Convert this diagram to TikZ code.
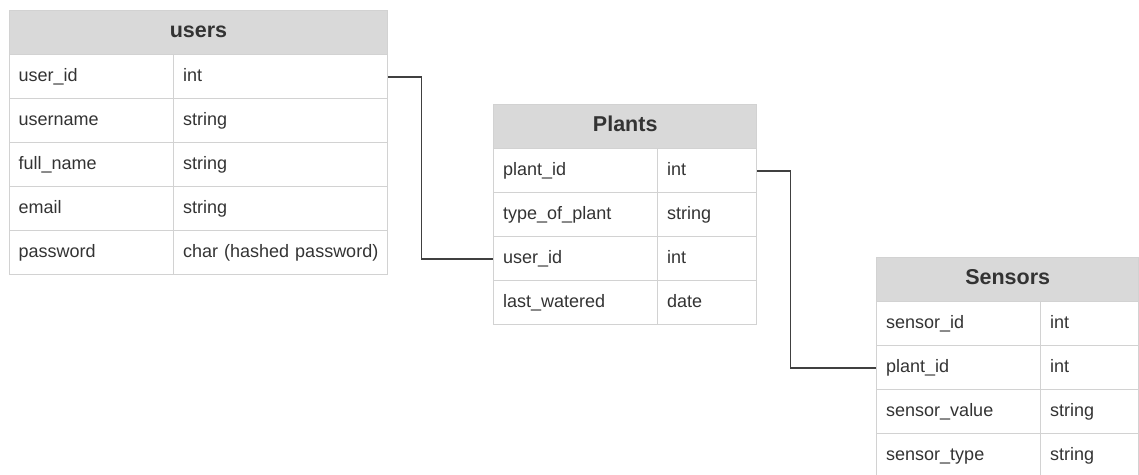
\documentclass[tikz,border=0pt]{standalone}
\usepackage{fontspec}
\setmainfont{Liberation Sans}
\definecolor{hdrgray}{HTML}{D9D9D9}
\definecolor{gridgray}{HTML}{D2D2D2}
\definecolor{txtgray}{HTML}{333333}
\definecolor{linkgray}{HTML}{404040}
\tikzset{
	cell/.style={draw=gridgray, line width=1.4pt, anchor=north west,
		minimum height=44pt, inner xsep=9.5pt, inner ysep=0pt,
		text width=#1, align=left, text height=13pt, text depth=4pt,
		text=txtgray, font=\fontsize{18}{20}\selectfont},
	hdr/.style={draw=gridgray, fill=hdrgray, line width=1.4pt, anchor=north west,
		minimum height=44pt, minimum width=#1, inner sep=0pt,
		text height=15pt, text depth=5pt,
		text=txtgray, font=\fontsize{21.5}{24}\bfseries},
	link/.style={draw=linkgray, line width=1.6pt}
}
\begin{document}
\begin{tikzpicture}[x=1pt,y=-1pt]
	\useasboundingbox (0,0) rectangle (1139,474);
	% users
	\node[hdr=378.5pt] (users) at (8.5,10) {users};
	\node[cell=145.5pt] (uk1) at (8.5,54) {user\_id};
	\node[cell=195pt] (ut1) at (173,54) {int};
	\node[cell=145.5pt] (uk2) at (8.5,98) {username};
	\node[cell=195pt] (ut2) at (173,98) {string};
	\node[cell=145.5pt] (uk3) at (8.5,142) {full\_name};
	\node[cell=195pt] (ut3) at (173,142) {string};
	\node[cell=145.5pt] (uk4) at (8.5,186) {email};
	\node[cell=195pt] (ut4) at (173,186) {string};
	\node[cell=145.5pt] (uk5) at (8.5,230) {password};
	\node[cell=195pt] (ut5) at (173,230) {\mbox{char (hashed password)}};
	% Plants
	\node[hdr=263pt] (plants) at (493,104) {Plants};
	\node[cell=145pt] (pk1) at (493,148) {plant\_id};
	\node[cell=80pt] (pt1) at (657,148) {int};
	\node[cell=145pt] (pk2) at (493,192) {type\_of\_plant};
	\node[cell=80pt] (pt2) at (657,192) {string};
	\node[cell=145pt] (pk3) at (493,236) {user\_id};
	\node[cell=80pt] (pt3) at (657,236) {int};
	\node[cell=145pt] (pk4) at (493,280) {last\_watered};
	\node[cell=80pt] (pt4) at (657,280) {date};
	% Sensors
	\node[hdr=262pt] (sensors) at (876,257) {Sensors};
	\node[cell=145pt] (sk1) at (876,301) {sensor\_id};
	\node[cell=79pt] (st1) at (1040,301) {int};
	\node[cell=145pt] (sk2) at (876,345) {plant\_id};
	\node[cell=79pt] (st2) at (1040,345) {int};
	\node[cell=145pt] (sk3) at (876,389) {sensor\_value};
	\node[cell=79pt] (st3) at (1040,389) {string};
	\node[cell=145pt] (sk4) at (876,433) {sensor\_type};
	\node[cell=79pt] (st4) at (1040,433) {string};
	% keys
	\draw[link] (ut1.east) -- ++(33,0) |- (pk3.west);
	\draw[link] (pt1.east) -- ++(33,0) |- (sk2.west);
\end{tikzpicture}
\end{document}
